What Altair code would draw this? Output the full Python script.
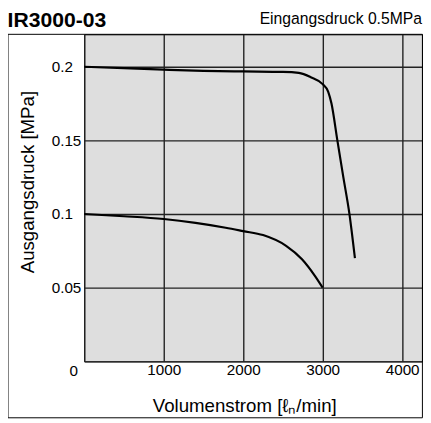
import altair as alt
import pandas as pd

# Upper curve (set pressure 0.2 MPa)
flow_upper = [0, 500, 1000, 1500, 2000, 2500, 2700, 2850, 3000, 3070, 3111, 3185, 3260, 3337, 3406]
pres_upper = [0.2, 0.1990, 0.1980, 0.1972, 0.1968, 0.1965, 0.1958, 0.1929, 0.1882, 0.1830, 0.1750, 0.150, 0.125, 0.100, 0.070]

# Lower curve (set pressure 0.1 MPa)
flow_lower = [0, 500, 1000, 1400, 1780, 2000, 2250, 2540, 2740, 2900, 3000]
pres_lower = [0.1, 0.0985, 0.0966, 0.0940, 0.0907, 0.0884, 0.0857, 0.0784, 0.0693, 0.0582, 0.050]

x_ticks = [0, 1000, 2000, 3000, 4000]
y_ticks = [0, 0.05, 0.1, 0.15, 0.2]

title_text = "IR3000-03"
subtitle_text = "Eingangsdruck 0.5MPa"
x_title = "Volumenstrom [ℓₙ/min]"
y_title = "Ausgangsdruck [MPa]"

FONT = "Liberation Sans"
W, H = 344, 333
BOTTOM = 59

rows = []
for i, (f, p) in enumerate(zip(flow_upper, pres_upper)):
    rows.append({"flow": f, "p": p, "curve": "0.2", "i": i})
for i, (f, p) in enumerate(zip(flow_lower, pres_lower)):
    rows.append({"flow": f, "p": p, "curve": "0.1", "i": i})
df = pd.DataFrame(rows)

xscale = alt.Scale(domain=[0, 4250], nice=False, zero=False)
yscale = alt.Scale(domain=[0, 0.222], nice=False, zero=False)

lines = alt.Chart(df).mark_line(
    color="black", strokeWidth=2.2, interpolate="monotone"
).encode(
    x=alt.X("flow:Q", scale=xscale, axis=alt.Axis(
        values=x_ticks, format="d", title=x_title, grid=True,
        labelExpr="datum.value == 0 ? '' : datum.label",
        labelPadding=1,
        titleX=163, titleY=51, titleBaseline="alphabetic", titleAnchor="middle",
    )),
    y=alt.Y("p:Q", scale=yscale, axis=alt.Axis(
        values=y_ticks, format=".2~f", title=y_title, grid=True,
        labelExpr="datum.value == 0 ? '' : datum.label",
        labelAlign="left", labelPadding=33.6,
        titleX=-58, titleY=150, titleAngle=-90, titleBaseline="middle", titleAnchor="middle",
    )),
    detail="curve:N",
    order="i:Q",
)

one = pd.DataFrame({"k": [0]})

frame = alt.Chart(one).mark_rect(
    fillOpacity=0, stroke="black", strokeWidth=1
).encode(
    x=alt.value(-77.6), x2=alt.value(W + 0.4), y=alt.value(0), y2=alt.value(H + BOTTOM - 1.5)
)

title = alt.Chart(pd.DataFrame({"t": [title_text]})).mark_text(
    font=FONT, fontSize=21.5, fontWeight="bold", align="left", baseline="alphabetic", color="black"
).encode(x=alt.value(-78), y=alt.value(-7.5), text="t:N")

subtitle = alt.Chart(pd.DataFrame({"t": [subtitle_text]})).mark_text(
    font=FONT, fontSize=16, align="right", baseline="alphabetic", color="black"
).encode(x=alt.value(W), y=alt.value(-10), text="t:N")

zero = alt.Chart(pd.DataFrame({"t": ["0"]})).mark_text(
    font=FONT, fontSize=15.5, align="center", baseline="middle", color="black"
).encode(x=alt.value(-10.6), y=alt.value(H + 9.5), text="t:N")

chart = alt.layer(frame, lines, title, subtitle, zero).properties(
    width=W, height=H,
    autosize=alt.AutoSizeParams(type="none"),
    padding={"left": 77.6, "top": 23, "right": 1, "bottom": BOTTOM},
).configure_view(
    fill="#dedede", stroke="black", strokeWidth=1
).configure_axis(
    domain=False, ticks=False, grid=True, gridColor="#222222", gridWidth=1.4, gridOpacity=1,
    labelFont=FONT, labelFontSize=15.5, labelColor="black", labelPadding=3,
    titleFont=FONT, titleFontSize=19, titleFontWeight="normal", titleColor="black",
).configure_axisY(
    labelAlign="left", labelPadding=33.6
)

chart.save("out.html", embed_options={"renderer": "svg", "actions": False})
